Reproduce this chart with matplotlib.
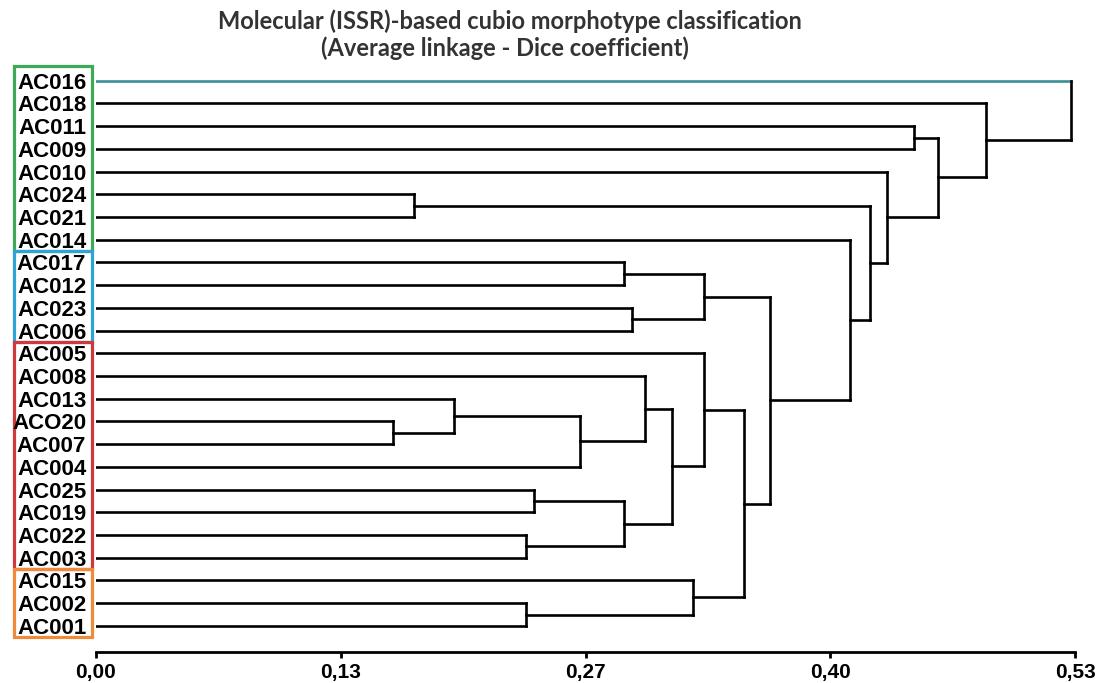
import matplotlib.pyplot as plt
from matplotlib.patches import Rectangle
from matplotlib.transforms import blended_transform_factory

leaves = ["AC016", "AC018", "AC011", "AC009", "AC010", "AC024", "AC021",
          "AC014", "AC017", "AC012", "AC023", "AC006", "AC005", "AC008",
          "AC013", "ACO20", "AC007", "AC004", "AC025", "AC019", "AC022",
          "AC003", "AC015", "AC002", "AC001"]

# merges in order: (child a, child b, distance); "n3" = result of merge 3
merges = [
    ("ACO20", "AC007", 0.161),
    ("AC024", "AC021", 0.172),
    ("AC013", "n0", 0.194),
    ("AC022", "AC003", 0.233),
    ("AC002", "AC001", 0.233),
    ("AC025", "AC019", 0.237),
    ("n2", "AC004", 0.262),
    ("AC017", "AC012", 0.286),
    ("n5", "n3", 0.286),
    ("AC023", "AC006", 0.290),
    ("AC008", "n6", 0.297),
    ("n10", "n8", 0.312),
    ("AC015", "n4", 0.323),
    ("n7", "n9", 0.329),
    ("AC005", "n11", 0.329),
    ("n14", "n12", 0.351),
    ("n13", "n15", 0.365),
    ("AC014", "n16", 0.408),
    ("n1", "n17", 0.419),
    ("AC010", "n18", 0.428),
    ("AC011", "AC009", 0.443),
    ("n20", "n19", 0.456),
    ("AC018", "n21", 0.482),
    ("AC016", "n22", 0.528),
]

# coloured boxes round the label groups: (colour, first leaf, last leaf)
groups = [("#3daa57", 0, 7), ("#2ea3d8", 8, 11),
          ("#d0393b", 12, 21), ("#ee8b3a", 22, 24)]

tick_pos = [0.0, 0.1325, 0.265, 0.3975, 0.53]
tick_labels = ["0,00", "0,13", "0,27", "0,40", "0,53"]

fig = plt.figure(figsize=(11.13, 6.83), dpi=100)
ax = fig.add_axes([96 / 1113, 1 - 652 / 683, (1075 - 96) / 1113, 594 / 683])

pos = {name: (float(i), 0.0) for i, name in enumerate(leaves)}
lw = 1.9
for k, (a, b, h) in enumerate(merges):
    ya, ha = pos[a]
    yb, hb = pos[b]
    col_a = "#3b8f97" if a == "AC016" else "black"
    ax.plot([ha, h], [ya, ya], color=col_a, lw=lw, solid_capstyle="projecting")
    ax.plot([hb, h], [yb, yb], color="black", lw=lw, solid_capstyle="projecting")
    ax.plot([h, h], [ya, yb], color="black", lw=lw, solid_capstyle="projecting")
    pos["n%d" % k] = ((ya + yb) / 2, h)

ax.set_xlim(0, 0.53)
ax.set_ylim(25.15, -1)
ax.set_yticks(range(len(leaves)))
ax.set_yticklabels(leaves, fontsize=16, fontweight="bold",
                   family="Liberation Sans")
ax.tick_params(axis="y", length=0, pad=7)
ax.set_xticks(tick_pos)
ax.set_xticklabels(tick_labels, fontsize=15, fontweight="bold",
                   family="Liberation Sans")
ax.tick_params(axis="x", direction="out", length=4, width=2, pad=4)
for side in ["left", "right", "top"]:
    ax.spines[side].set_visible(False)
ax.spines["bottom"].set_linewidth(2)
ax.spines["bottom"].set_bounds(0, 0.53)

trans = blended_transform_factory(fig.transFigure, ax.transData)
for color, first, last in groups:
    top = first - 0.5 if first > 0 else -0.66
    ax.add_patch(Rectangle((14 / 1113, top), 78 / 1113, last + 0.5 - top,
                           transform=trans, fill=False, edgecolor=color,
                           lw=2.3, clip_on=False))

fig.text(510 / 1113, 1 - 21 / 683, "Molecular (ISSR)-based cubio morphotype classification",
         ha="center", va="center", fontsize=17, fontweight="bold",
         family="Lato", color="#333333")
fig.text(505 / 1113, 1 - 48 / 683, "(Average linkage - Dice coefficient)",
         ha="center", va="center", fontsize=17, fontweight="bold",
         family="Lato", color="#333333")

fig.savefig("out.png", dpi=100)
